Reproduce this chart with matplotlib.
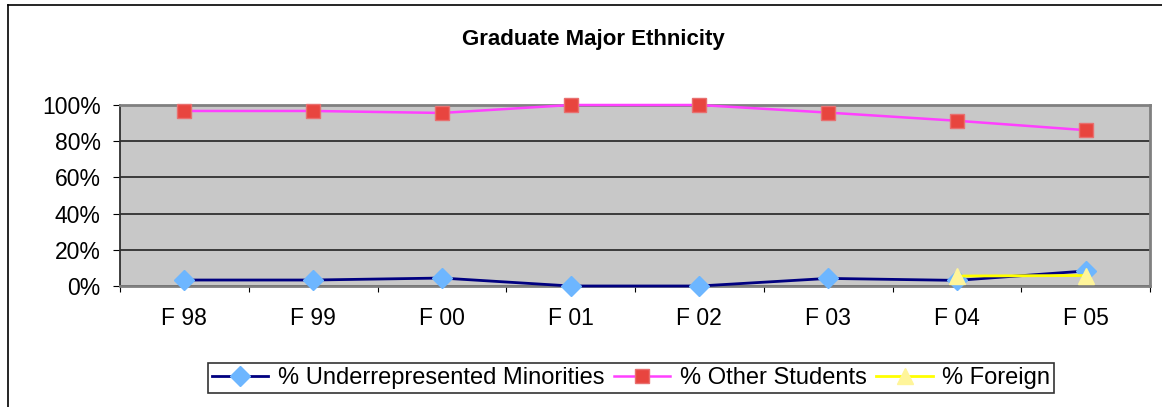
import matplotlib
matplotlib.use("Agg")
import matplotlib.pyplot as plt
from matplotlib.lines import Line2D
from matplotlib.ticker import PercentFormatter, FixedLocator

plt.rcParams['font.family'] = ['Liberation Sans', 'DejaVu Sans']

# data
terms = ["F 98", "F 99", "F 00", "F 01", "F 02", "F 03", "F 04", "F 05"]
minorities = [0.033, 0.033, 0.044, 0.0, 0.0, 0.042, 0.031, 0.083]
other_students = [0.967, 0.967, 0.956, 1.0, 1.0, 0.958, 0.913, 0.861]
foreign_terms = ["F 04", "F 05"]
foreign = [0.055, 0.058]

W, H = 1162, 407
fig = plt.figure(figsize=(W / 100, H / 100), dpi=100)
fig.patch.set_facecolor("white")

# outer chart border (left and top visible)
fig.add_artist(Line2D([8 / W, 8 / W], [0, 1 - 5 / H], color="black", lw=1.2))
fig.add_artist(Line2D([8 / W, 1], [1 - 5 / H, 1 - 5 / H], color="black", lw=1.2))

ax = fig.add_axes([120 / W, 1 - 286 / H, 1030 / W, 181 / H])
ax.set_facecolor("#C8C8C8")

x = list(range(len(terms)))
fx = [terms.index(t) for t in foreign_terms]

l1, = ax.plot(x, minorities, color="#000080", lw=2, marker="D", markersize=10,
              markerfacecolor="#6DB6FF", markeredgecolor="#6DB6FF", zorder=4, clip_on=False)
l2, = ax.plot(x, other_students, color="#FF40FF", lw=1.8, marker="s", markersize=10,
              markerfacecolor="#E8453F", markeredgecolor="#E87070", zorder=4, clip_on=False)
l3, = ax.plot(fx, foreign, color="#FFFF00", lw=2, marker="^", markersize=12,
              markerfacecolor="#FFF59A", markeredgecolor="#FFF59A", zorder=5, clip_on=False)

ax.set_ylim(0, 1)
ax.set_xlim(-0.5, len(terms) - 0.5)
ax.yaxis.set_major_locator(FixedLocator([0, 0.2, 0.4, 0.6, 0.8, 1.0]))
ax.yaxis.set_major_formatter(PercentFormatter(1.0, decimals=0))
ax.grid(axis="y", color="#303030", lw=1.3)
ax.set_axisbelow(True)

ax.set_xticks([i - 0.5 for i in range(len(terms) + 1)])
ax.set_xticklabels([])
ax.set_xticks(x, minor=True)
ax.set_xticklabels(terms, minor=True)
ax.tick_params(axis="x", which="major", length=4.5, direction="out", color="black")
ax.tick_params(axis="x", which="minor", length=0, pad=15, labelsize=16.5)
ax.tick_params(axis="y", length=5, direction="out", pad=9, labelsize=16.5)

for side in ["top", "right", "bottom"]:
    ax.spines[side].set_color("#808080")
    ax.spines[side].set_linewidth(2)
ax.spines["left"].set_color("#303030")
ax.spines["left"].set_linewidth(1.3)

fig.text(593 / W, 1 - 40 / H, "Graduate Major Ethnicity", ha="center", va="center",
         fontsize=16, fontweight="bold")

leg = fig.legend([l1, l2, l3],
                 ["% Underrepresented Minorities", "% Other Students", "% Foreign"],
                 loc="center", bbox_to_anchor=(631 / W, 1 - 378 / H), ncol=3,
                 fontsize=17, frameon=True, fancybox=False, handlelength=2.4,
                 columnspacing=0.4, handletextpad=0.4, borderpad=0.15)
leg.get_frame().set_edgecolor("black")
leg.get_frame().set_linewidth(1.2)

fig.savefig("out.png", dpi=100)
